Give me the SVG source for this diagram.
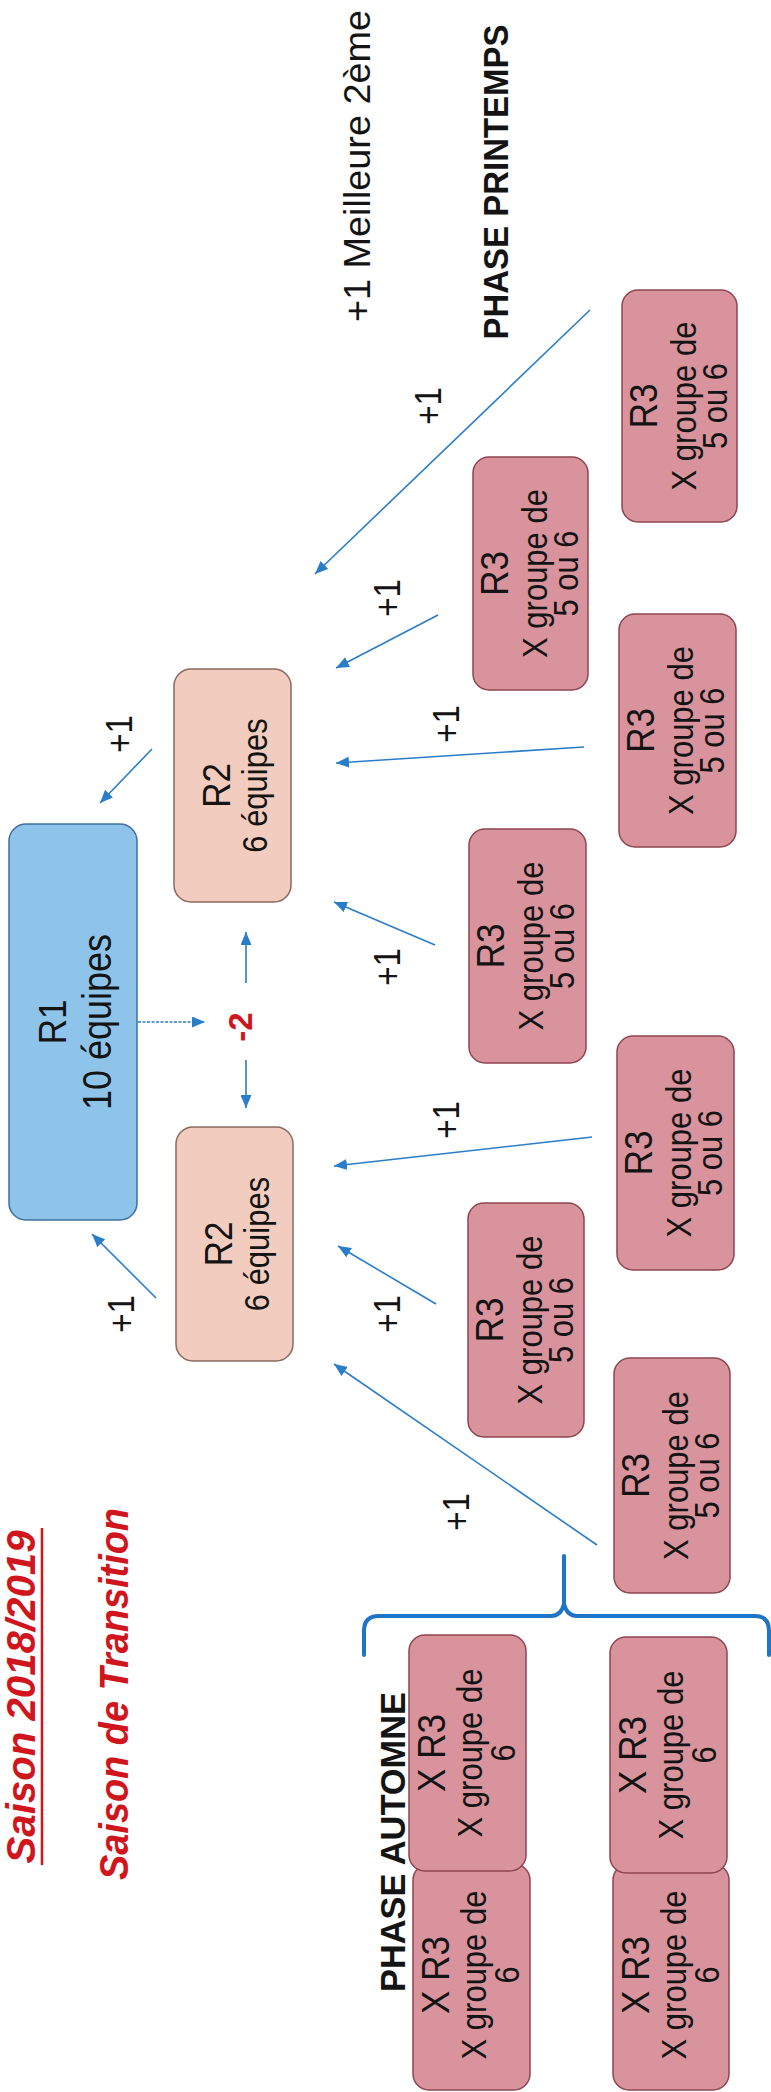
<svg xmlns="http://www.w3.org/2000/svg" width="771" height="2092" viewBox="0 0 771 2092">
<style>
  .bg{fill:#ffffff}
  .r1{fill:#8EC3EA;stroke:#3F70A0;stroke-width:1.5}
  .r2{fill:#F2CDBF;stroke:#8A6A5E;stroke-width:1.5}
  .r3{fill:#D8939C;stroke:#8E4650;stroke-width:1.5}
  .t{font-family:"Liberation Sans",Arial,sans-serif;fill:#141414;text-anchor:middle}
  .big{font-size:35px}
  .med{font-size:31px}
  .lbl{font-family:"Liberation Sans",Arial,sans-serif;font-size:33px;fill:#141414;text-anchor:middle}
  .phase{font-family:"Liberation Sans",Arial,sans-serif;font-size:34px;font-weight:bold;fill:#141414;text-anchor:middle}
  .title{font-family:"Liberation Sans",Arial,sans-serif;font-size:38px;font-weight:bold;font-style:italic;fill:#D0151C;text-anchor:middle}
  .minus{font-family:"Liberation Sans",Arial,sans-serif;font-size:33px;font-weight:bold;fill:#D0151C;text-anchor:middle}
  .arr{stroke:#2A7DC9;stroke-width:1.6;fill:none;marker-end:url(#ah)}
  .dot{stroke-dasharray:3 1.5}
  .brace{stroke:#1E74C6;stroke-width:4;fill:none;stroke-linecap:round;stroke-linejoin:round}
</style>
<defs>
  <marker id="ah" markerUnits="userSpaceOnUse" markerWidth="13" markerHeight="11" refX="13" refY="5.5" orient="auto">
    <path d="M0,0 L13,5.5 L0,11 z" fill="#2A7DC9"/>
  </marker>
</defs>
<rect class="bg" x="0" y="0" width="771" height="2092"/>

<g id="titles">
  <text class="title" transform="translate(35,1697) rotate(-90) scale(1,1.08)" textLength="333" lengthAdjust="spacingAndGlyphs">Saison 2018/2019</text>
  <line x1="42" y1="1528" x2="42" y2="1865" stroke="#D0151C" stroke-width="2.5"/>
  <text class="title" transform="translate(128,1694) rotate(-90) scale(1,1.08)" textLength="372" lengthAdjust="spacingAndGlyphs">Saison de Transition</text>
</g>

<g id="label-printemps">
  <text class="t" style="font-size:36px" transform="translate(370,166) rotate(-90) scale(1,1.05)" textLength="312" lengthAdjust="spacingAndGlyphs">+1 Meilleure 2ème</text>
  <text class="phase" transform="translate(508,182) rotate(-90) scale(1,1.05)" textLength="315" lengthAdjust="spacingAndGlyphs">PHASE PRINTEMPS</text>
</g>

<g id="r1">
  <rect class="r1" x="9" y="824" width="128" height="396" rx="17"/>
  <text class="t big" transform="translate(66,1022) rotate(-90) scale(1,1.12)">R1</text>
  <text class="t" style="font-size:36px" transform="translate(111,1022) rotate(-90) scale(1,1.12)">10 équipes</text>
</g>

<g id="r2-haut">
  <rect class="r2" x="174" y="669" width="117" height="233" rx="17"/>
  <text class="t big" transform="translate(230,785.5) rotate(-90) scale(1,1.12)">R2</text>
  <text class="t med" transform="translate(267,785.5) rotate(-90) scale(1,1.12)">6 équipes</text>
</g>
<g id="r2-bas">
  <rect class="r2" x="176" y="1127" width="117" height="234" rx="17"/>
  <text class="t big" transform="translate(232,1244) rotate(-90) scale(1,1.12)">R2</text>
  <text class="t med" transform="translate(269,1244) rotate(-90) scale(1,1.12)">6 équipes</text>
</g>

<g id="r3-m1">
  <rect class="r3" x="473" y="457" width="115" height="233" rx="16"/>
  <text class="t big" transform="translate(508,573.5) rotate(-90) scale(1,1.12)">R3</text>
  <text class="t med" transform="translate(547,573.5) rotate(-90) scale(1,1.12)">X groupe de</text>
  <text class="t med" transform="translate(578,573.5) rotate(-90) scale(1,1.12)">5 ou 6</text>
</g>
<g id="r3-m2">
  <rect class="r3" x="469" y="829" width="117" height="234" rx="16"/>
  <text class="t big" transform="translate(504,946) rotate(-90) scale(1,1.12)">R3</text>
  <text class="t med" transform="translate(543,946) rotate(-90) scale(1,1.12)">X groupe de</text>
  <text class="t med" transform="translate(574,946) rotate(-90) scale(1,1.12)">5 ou 6</text>
</g>
<g id="r3-m3">
  <rect class="r3" x="468" y="1203" width="116" height="234" rx="16"/>
  <text class="t big" transform="translate(503,1320) rotate(-90) scale(1,1.12)">R3</text>
  <text class="t med" transform="translate(542,1320) rotate(-90) scale(1,1.12)">X groupe de</text>
  <text class="t med" transform="translate(573,1320) rotate(-90) scale(1,1.12)">5 ou 6</text>
</g>
<g id="r3-d1">
  <rect class="r3" x="622" y="290" width="115" height="232" rx="16"/>
  <text class="t big" transform="translate(657,406) rotate(-90) scale(1,1.12)">R3</text>
  <text class="t med" transform="translate(696,406) rotate(-90) scale(1,1.12)">X groupe de</text>
  <text class="t med" transform="translate(727,406) rotate(-90) scale(1,1.12)">5 ou 6</text>
</g>
<g id="r3-d2">
  <rect class="r3" x="619" y="614" width="117" height="233" rx="16"/>
  <text class="t big" transform="translate(654,730.5) rotate(-90) scale(1,1.12)">R3</text>
  <text class="t med" transform="translate(693,730.5) rotate(-90) scale(1,1.12)">X groupe de</text>
  <text class="t med" transform="translate(724,730.5) rotate(-90) scale(1,1.12)">5 ou 6</text>
</g>
<g id="r3-d3">
  <rect class="r3" x="617" y="1036" width="117" height="234" rx="16"/>
  <text class="t big" transform="translate(652,1153) rotate(-90) scale(1,1.12)">R3</text>
  <text class="t med" transform="translate(691,1153) rotate(-90) scale(1,1.12)">X groupe de</text>
  <text class="t med" transform="translate(722,1153) rotate(-90) scale(1,1.12)">5 ou 6</text>
</g>
<g id="r3-d4">
  <rect class="r3" x="614" y="1358" width="116" height="235" rx="16"/>
  <text class="t big" transform="translate(649,1475.5) rotate(-90) scale(1,1.12)">R3</text>
  <text class="t med" transform="translate(688,1475.5) rotate(-90) scale(1,1.12)">X groupe de</text>
  <text class="t med" transform="translate(719,1475.5) rotate(-90) scale(1,1.12)">5 ou 6</text>
</g>

<g id="automne-2">
  <rect class="r3" x="413" y="1864" width="117" height="226" rx="16"/>
  <text class="t big" transform="translate(449,1975) rotate(-90) scale(1,1.12)">X R3</text>
  <text class="t med" transform="translate(486,1975) rotate(-90) scale(1,1.12)">X groupe de</text>
  <text class="t med" transform="translate(519,1975) rotate(-90) scale(1,1.12)">6</text>
</g>
<g id="automne-1">
  <rect class="r3" x="409" y="1635" width="117" height="236" rx="16"/>
  <text class="t big" transform="translate(445,1753) rotate(-90) scale(1,1.12)">X R3</text>
  <text class="t med" transform="translate(482,1753) rotate(-90) scale(1,1.12)">X groupe de</text>
  <text class="t med" transform="translate(515,1753) rotate(-90) scale(1,1.12)">6</text>
</g>
<g id="automne-4">
  <rect class="r3" x="613" y="1864" width="116" height="226" rx="16"/>
  <text class="t big" transform="translate(649,1975) rotate(-90) scale(1,1.12)">X R3</text>
  <text class="t med" transform="translate(686,1975) rotate(-90) scale(1,1.12)">X groupe de</text>
  <text class="t med" transform="translate(719,1975) rotate(-90) scale(1,1.12)">6</text>
</g>
<g id="automne-3">
  <rect class="r3" x="610" y="1637" width="117" height="236" rx="16"/>
  <text class="t big" transform="translate(646,1755) rotate(-90) scale(1,1.12)">X R3</text>
  <text class="t med" transform="translate(683,1755) rotate(-90) scale(1,1.12)">X groupe de</text>
  <text class="t med" transform="translate(716,1755) rotate(-90) scale(1,1.12)">6</text>
</g>

<g id="label-automne">
  <text class="phase" transform="translate(405,1842) rotate(-90) scale(1,1.05)" textLength="300" lengthAdjust="spacingAndGlyphs">PHASE AUTOMNE</text>
</g>

<g id="brace">
  <path class="brace" d="M364,1655 L364,1631 Q364,1616 379,1616 L551,1616 Q561,1616 564,1604 L564,1556 M564,1604 Q567,1616 577,1616 L755,1616 Q769,1616 769,1631 L769,1655"/>
</g>

<g id="connectors">
  <path class="arr dot" d="M138,1022 L205,1022"/>
  <path class="arr" d="M246,983 L246,932"/>
  <path class="arr" d="M246,1060 L246,1108"/>
  <path class="arr" d="M152,749 L100,803"/>
  <path class="arr" d="M156,1298 L92,1234"/>
  <path class="arr" d="M438,615 L336,668"/>
  <path class="arr" d="M590,310 L315,574"/>
  <path class="arr" d="M584,747 L336,763"/>
  <path class="arr" d="M435,945 L334,902"/>
  <path class="arr" d="M592,1137 L334,1166"/>
  <path class="arr" d="M436,1304 L338,1246"/>
  <path class="arr" d="M597,1545 L334,1364"/>
</g>

<g id="labels">
  <text class="minus" transform="translate(252,1027) rotate(-90)">-2</text>
  <text class="lbl" transform="translate(132,734) rotate(-90) scale(1,1.1)">+1</text>
  <text class="lbl" transform="translate(134,1314) rotate(-90) scale(1,1.1)">+1</text>
  <text class="lbl" transform="translate(400,967) rotate(-90) scale(1,1.1)">+1</text>
  <text class="lbl" transform="translate(459,724) rotate(-90) scale(1,1.1)">+1</text>
  <text class="lbl" transform="translate(459,1120) rotate(-90) scale(1,1.1)">+1</text>
  <text class="lbl" transform="translate(400,1314) rotate(-90) scale(1,1.1)">+1</text>
  <text class="lbl" transform="translate(441,406) rotate(-90) scale(1,1.1)">+1</text>
  <text class="lbl" transform="translate(400,598) rotate(-90) scale(1,1.1)">+1</text>
  <text class="lbl" transform="translate(469,1512) rotate(-90) scale(1,1.1)">+1</text>
</g>
</svg>
